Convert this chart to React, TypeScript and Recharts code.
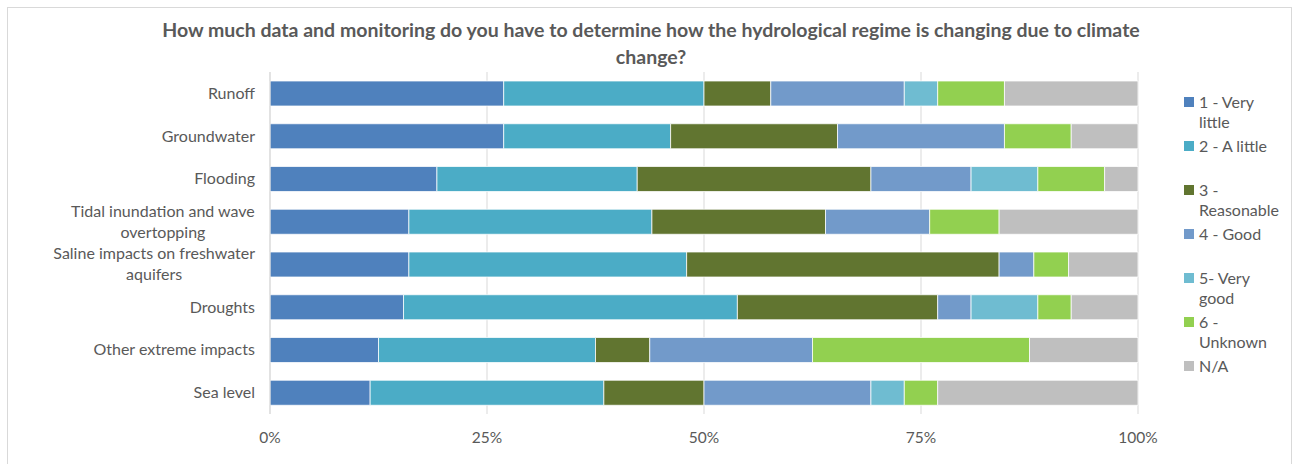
import React from "react";
import { BarChart, Bar, XAxis, YAxis, CartesianGrid } from "recharts";

// survey responses (counts) per category, drawn as 100% stacked bars
const categories = [
  "Runoff",
  "Groundwater",
  "Flooding",
  "Tidal inundation and wave overtopping",
  "Saline impacts on freshwater aquifers",
  "Droughts",
  "Other extreme impacts",
  "Sea level",
];

const seriesNames = [
  "1 - Very little",
  "2 - A little",
  "3 - Reasonable",
  "4 - Good",
  "5- Very good",
  "6 - Unknown",
  "N/A",
];

const veryLittle = [7, 7, 5, 4, 4, 4, 2, 3];
const aLittle = [6, 5, 6, 7, 8, 10, 4, 7];
const reasonable = [2, 5, 7, 5, 9, 6, 1, 3];
const good = [4, 5, 3, 3, 1, 1, 3, 5];
const veryGood = [1, 0, 2, 0, 0, 2, 0, 1];
const unknown = [2, 2, 2, 2, 1, 1, 4, 1];
const notApplicable = [4, 2, 1, 4, 2, 2, 2, 6];

const percentTicks = [0, 0.25, 0.5, 0.75, 1];

const seriesValues = [veryLittle, aLittle, reasonable, good, veryGood, unknown, notApplicable];
const COLORS = ["#4F81BD", "#4BACC6", "#617530", "#729ACA", "#6FBCD1", "#92D050", "#BFBFBF"];

const data = categories.map((name, i) => {
  const row: Record<string, string | number> = { name };
  seriesValues.forEach((vals, j) => {
    row[`s${j}`] = vals[i];
  });
  return row;
});

const FONT = "Lato, 'Open Sans', sans-serif";
const TEXT = "#595959";
const LABEL_SIZE = 16;

let ctx: CanvasRenderingContext2D | null = null;
const textWidth = (t: string, size: number) => {
  if (!ctx) ctx = document.createElement("canvas").getContext("2d");
  if (!ctx) return t.length * size * 0.5;
  ctx.font = `${size}px Lato`;
  return ctx.measureText(t).width;
};

const wrapText = (text: string, maxW: number, size: number) => {
  const words = text.split(" ");
  const lines: string[] = [];
  let cur = "";
  words.forEach((w) => {
    const next = cur ? `${cur} ${w}` : w;
    if (cur && textWidth(next, size) > maxW) {
      lines.push(cur);
      cur = w;
    } else {
      cur = next;
    }
  });
  if (cur) lines.push(cur);
  return lines;
};

const CategoryTick = (props: any) => {
  const { x, y, payload } = props;
  const lines = wrapText(payload.value, 230, LABEL_SIZE);
  const maxW = Math.max(...lines.map((l) => textWidth(l, LABEL_SIZE)));
  const cx = x - maxW / 2;
  return (
    <g>
      {lines.map((l, i) => (
        <text
          key={i}
          x={cx}
          y={y + (i - (lines.length - 1) / 2) * 21}
          dy="0.35em"
          textAnchor="middle"
          fill={TEXT}
          fontSize={LABEL_SIZE}
          fontFamily={FONT}
        >
          {l}
        </text>
      ))}
    </g>
  );
};

export default function App() {
  return (
    <div style={{ position: "absolute", left: 0, top: 0, width: 1293, height: 464, overflow: "hidden", background: "#fff", fontFamily: FONT }}>
      <div
        style={{
          position: "absolute",
          left: 7,
          top: 7,
          width: 1285,
          height: 470,
          border: "1px solid #D9D9D9",
          boxSizing: "border-box",
        }}
      />
      <div
        style={{
          position: "absolute",
          left: 7,
          top: 16,
          width: 1288,
          textAlign: "center",
          color: TEXT,
          fontWeight: 700,
          fontSize: 19.5,
          lineHeight: "27px",
        }}
      >
        <div style={{ width: 1010, margin: "0 auto" }}>
          How much data and monitoring do you have to determine how the hydrological regime is changing due to climate change?
        </div>
      </div>

      <div style={{ position: "absolute", left: 0, top: 0 }}>
        <BarChart
          width={1293}
          height={464}
          data={data}
          layout="vertical"
          stackOffset="expand"
          barSize={25}
          margin={{ top: 72, right: 155, bottom: 20, left: 0 }}
        >
          <CartesianGrid horizontal={false} stroke="#D9D9D9" />
          <XAxis
            type="number"
            domain={[0, 1]}
            ticks={percentTicks}
            tickFormatter={(v: number) => `${Math.round(v * 100)}%`}
            axisLine={false}
            tickLine={false}
            tickMargin={12}
            height={30}
            tick={{ fill: TEXT, fontSize: 15.5, fontFamily: FONT }}
          />
          <YAxis
            type="category"
            dataKey="name"
            width={270}
            axisLine={{ stroke: "#D9D9D9" }}
            tickLine={false}
            tickMargin={9}
            interval={0}
            tick={<CategoryTick />}
          />
          {seriesNames.map((s, j) => (
            <Bar
              key={s}
              dataKey={`s${j}`}
              name={s}
              stackId="a"
              fill={COLORS[j]}
              stroke="#fff"
              strokeWidth={0.75}
              isAnimationActive={false}
            />
          ))}
        </BarChart>
      </div>

      <div style={{ position: "absolute", left: 1184, top: 92, width: 105 }}>
        {seriesNames.map((s, j) => (
          <div key={s} style={{ height: 44, display: "flex", alignItems: "flex-start" }}>
            <span style={{ width: 10, height: 10, background: COLORS[j], marginTop: 5, marginRight: 5, flex: "none" }} />
            <span style={{ width: 82, fontSize: 16, lineHeight: "20px", color: TEXT }}>{s}</span>
          </div>
        ))}
      </div>
    </div>
  );
}
